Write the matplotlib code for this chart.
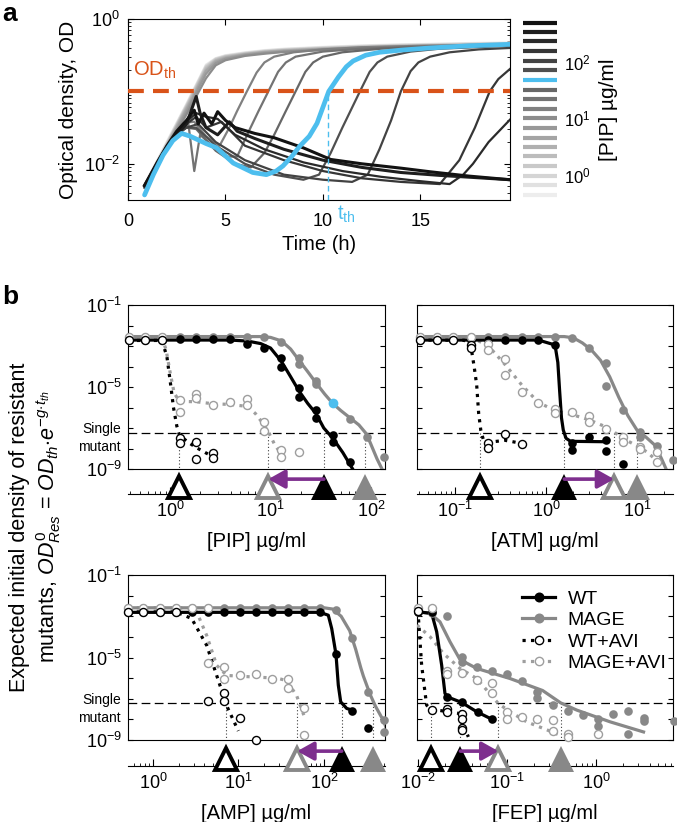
import numpy as np
import matplotlib.pyplot as plt
from matplotlib.lines import Line2D
from matplotlib.ticker import NullLocator, FixedLocator

plt.rcParams.update({
    'font.family': ['Liberation Sans', 'DejaVu Sans'],
    'mathtext.fontset': 'custom',
    'mathtext.rm': 'Liberation Sans',
    'mathtext.it': 'Liberation Sans:italic',
    'mathtext.bf': 'Liberation Sans:bold',
    'xtick.direction': 'in',
    'ytick.direction': 'in',
    'axes.linewidth': 0.8,
})

W, H = 677, 822
BLUE = '#4DBEEE'
ORANGE = '#D95319'
PURPLE = '#7E2F8E'
GRAY = '#888888'
LGRAY = '#9e9e9e'

# ---------------- panel a : growth curves (time h, log10 OD) ----------------
T_LOW = [0.85, 1.5, 2.0, 2.5, 3.0, 3.5, 4.0, 4.5, 5.0, 6.0, 7.0, 8.0, 10.0, 12.0, 14.0, 16.0, 18.0, 19.6]
OD_LOW_0 = [-2.28, -1.95, -1.69, -1.43, -1.17, -0.90, -0.63, -0.54, -0.50, -0.46, -0.43, -0.41, -0.385, -0.365, -0.35, -0.34, -0.33, -0.325]
OD_LOW_1 = [-2.29, -1.96, -1.70, -1.44, -1.18, -0.91, -0.64, -0.545, -0.505, -0.465, -0.435, -0.415, -0.39, -0.37, -0.355, -0.345, -0.335, -0.33]
OD_LOW_2 = [-2.30, -1.97, -1.71, -1.45, -1.19, -0.92, -0.65, -0.55, -0.51, -0.47, -0.44, -0.42, -0.395, -0.375, -0.36, -0.35, -0.34, -0.335]
OD_LOW_3 = [-2.30, -1.97, -1.72, -1.46, -1.20, -0.93, -0.66, -0.555, -0.515, -0.475, -0.445, -0.425, -0.40, -0.38, -0.365, -0.355, -0.345, -0.34]
OD_LOW_4 = [-2.31, -1.98, -1.73, -1.47, -1.21, -0.95, -0.68, -0.565, -0.52, -0.48, -0.45, -0.43, -0.405, -0.385, -0.37, -0.36, -0.35, -0.345]
OD_LOW_5 = [-2.31, -1.99, -1.74, -1.48, -1.23, -0.97, -0.70, -0.575, -0.53, -0.485, -0.455, -0.435, -0.41, -0.39, -0.375, -0.365, -0.355, -0.35]
OD_LOW_6 = [-2.32, -2.00, -1.75, -1.50, -1.25, -0.99, -0.72, -0.59, -0.54, -0.49, -0.46, -0.44, -0.415, -0.395, -0.38, -0.37, -0.36, -0.355]
OD_LOW_7 = [-2.32, -2.01, -1.76, -1.52, -1.28, -1.02, -0.76, -0.61, -0.55, -0.50, -0.47, -0.45, -0.42, -0.40, -0.385, -0.375, -0.365, -0.36]
OD_LOW_8 = [-2.33, -2.02, -1.78, -1.55, -1.32, -1.07, -0.82, -0.64, -0.57, -0.51, -0.48, -0.455, -0.43, -0.41, -0.395, -0.38, -0.37, -0.365]

T_9 = [0.85, 1.5, 2.0, 2.5, 3.0, 3.4, 4.0, 4.7, 5.2, 5.6, 6.1, 6.6, 7.0, 7.5, 8.5, 10, 12, 15, 19.6]
OD_9 = [-2.32, -2.0, -1.76, -1.55, -1.43, -1.42, -1.62, -1.75, -1.5, -1.27, -1.0, -0.74, -0.6, -0.52, -0.46, -0.42, -0.39, -0.37, -0.35]
T_10 = [0.85, 1.5, 2.0, 2.5, 3.1, 3.4, 3.7, 4.2, 5.0, 5.6, 6.2, 6.7, 7.2, 7.7, 8.1, 8.6, 10, 12, 15, 19.6]
OD_10 = [-2.33, -2.02, -1.78, -1.58, -1.45, -2.1, -1.6, -1.72, -1.9, -1.9, -1.55, -1.27, -1.0, -0.73, -0.6, -0.52, -0.45, -0.41, -0.38, -0.36]
T_11 = [0.85, 1.5, 2.0, 2.5, 3.0, 3.5, 4.5, 5.5, 6.3, 7.0, 7.5, 8.1, 8.6, 9.1, 9.5, 10, 11, 13, 16, 19.6]
OD_11 = [-2.33, -2.02, -1.79, -1.6, -1.5, -1.52, -1.82, -2.0, -2.05, -1.85, -1.6, -1.27, -1.0, -0.73, -0.6, -0.52, -0.46, -0.41, -0.38, -0.36]
T_BLUE = [0.85, 1.3, 1.8, 2.3, 2.75, 3.2, 4.0, 4.55, 5.4, 6.4, 7.1, 7.6, 7.95, 8.4, 8.8, 9.3, 9.7, 10.3, 10.8, 11.2, 11.55, 12.2, 12.9, 14, 15.5, 17.5, 19.6]
OD_BLUE = [-2.43, -2.15, -1.88, -1.68, -1.58, -1.62, -1.72, -1.78, -1.99, -2.12, -2.15, -2.1, -2.03, -1.9, -1.76, -1.62, -1.44, -1.0, -0.8, -0.66, -0.58, -0.5, -0.46, -0.43, -0.40, -0.37, -0.35]
T_13 = [0.85, 1.5, 2.0, 2.5, 3.0, 3.5, 4.5, 6.0, 7.5, 9.0, 9.8, 10.4, 11.0, 11.9, 12.4, 12.8, 13.3, 14.5, 16, 19.6]
OD_13 = [-2.32, -2.0, -1.77, -1.6, -1.5, -1.5, -1.75, -2.0, -2.15, -2.22, -2.15, -1.85, -1.5, -1.0, -0.73, -0.6, -0.52, -0.45, -0.41, -0.37]
T_14 = [0.85, 1.5, 2.0, 2.5, 3.0, 3.6, 4.5, 6.0, 8.0, 10.0, 11.5, 12.3, 12.9, 13.5, 14.0, 14.5, 14.9, 15.5, 16.5, 18, 19.6]
OD_14 = [-2.31, -1.99, -1.76, -1.58, -1.5, -1.45, -1.7, -1.95, -2.15, -2.22, -2.25, -2.15, -1.8, -1.4, -1.0, -0.72, -0.6, -0.52, -0.46, -0.42, -0.40]
T_15 = [0.85, 1.5, 2.0, 2.5, 3.0, 3.5, 4.0, 4.8, 6, 8, 10, 12, 14, 16.0, 17.0, 17.8, 18.56, 19.0, 19.6]
OD_15 = [-2.31, -1.99, -1.76, -1.57, -1.45, -1.35, -1.5, -1.42, -1.75, -1.95, -2.1, -2.2, -2.25, -2.28, -1.95, -1.5, -1.0, -0.83, -0.69]
T_16 = [0.85, 1.5, 2.0, 2.5, 3.0, 3.5, 4.0, 4.6, 5.5, 7, 9, 11, 13, 15, 16.5, 17.2, 17.7, 18.5, 19.6]
OD_16 = [-2.30, -1.98, -1.75, -1.56, -1.42, -1.3, -1.35, -1.38, -1.6, -1.8, -1.98, -2.1, -2.18, -2.24, -2.28, -2.15, -2.0, -1.7, -1.39]
T_17 = [0.85, 1.5, 2.0, 2.5, 3.0, 3.5, 3.7, 4.0, 4.6, 5.2, 5.6, 6.5, 8, 10, 12, 14, 16, 19.6]
OD_17 = [-2.3, -2.0, -1.78, -1.6, -1.45, -1.07, -1.3, -1.5, -1.6, -1.42, -1.55, -1.65, -1.8, -1.95, -2.05, -2.12, -2.16, -2.22]
T_18 = [0.85, 1.5, 2.0, 2.5, 3.0, 3.4, 3.6, 3.9, 4.3, 4.6, 5.0, 5.5, 6.5, 7.5, 9, 10.4, 12, 14, 15.5, 17.5, 19.6]
OD_18 = [-2.3, -1.98, -1.75, -1.55, -1.4, -1.26, -1.45, -1.3, -1.45, -1.28, -1.4, -1.5, -1.58, -1.64, -1.78, -1.94, -2.0, -2.06, -2.11, -2.17, -2.22]

OD_TH = 0.1
T_TH = 10.25
# colour-bar concentrations (log10 ug/ml); index 12 is the highlighted (blue) one
CBAR_LOGC = [-0.35, -0.18, -0.01, 0.16, 0.33, 0.50, 0.66, 0.83, 1.00, 1.17, 1.34, 1.51, 1.68,
             1.85, 2.02, 2.19, 2.36, 2.52, 2.69]
BLUE_INDEX = 12

# ---------------- panel b : log10 concentration vs log10 density ----------------
SINGLE_MUTANT = -7.22

# PIP
PIP_XLIM = (-0.42, 2.14)
PIP_WT_X = [-0.415, -0.249, -0.083, 0.093, 0.259, 0.431, 0.597, 0.770, 0.935, 1.108, 1.108, 1.284, 1.284, 1.453, 1.453, 1.619, 1.619, 1.791]
PIP_WT_Y = [-2.71, -2.71, -2.71, -2.66, -2.66, -2.66, -2.66, -2.92, -3.08, -3.57, -4.01, -5.06, -5.47, -6.12, -6.53, -7.34, -7.67, -8.64]
PIP_WT_FX = [-0.415, 0.6, 0.77, 0.9, 1.0, 1.108, 1.2, 1.284, 1.37, 1.453, 1.53, 1.62, 1.72, 1.83]
PIP_WT_FY = [-2.71, -2.71, -2.76, -2.88, -3.1, -3.75, -4.5, -5.2, -5.8, -6.3, -7.0, -7.5, -8.2, -9.1]
PIP_MG_X = [-0.415, -0.249, -0.083, 0.093, 0.259, 0.431, 0.597, 0.770, 0.935, 1.108, 1.284, 1.284, 1.453, 1.453, 1.791, 1.957, 2.130]
PIP_MG_Y = [-2.54, -2.54, -2.54, -2.54, -2.54, -2.54, -2.54, -2.54, -2.54, -2.79, -3.60, -3.90, -4.70, -4.85, -6.56, -7.42, -8.40]
PIP_MG_FX = [-0.415, 0.9, 1.0, 1.108, 1.2, 1.284, 1.37, 1.453, 1.54, 1.619, 1.7, 1.79, 1.88, 1.957, 2.0, 2.06, 2.12]
PIP_MG_FY = [-2.54, -2.54, -2.58, -2.75, -3.15, -3.7, -4.25, -4.8, -5.35, -5.8, -6.15, -6.5, -6.85, -7.3, -7.8, -8.5, -9.1]
PIP_BLUE_PT = (1.619, -5.80)
PIP_WA_X = [-0.415, -0.249, -0.083, 0.093, 0.093, 0.259, 0.259, 0.431, 0.431]
PIP_WA_Y = [-2.73, -2.73, -2.73, -7.47, -7.75, -7.67, -8.51, -8.24, -8.48]
PIP_WA_FX = [-0.415, -0.083, -0.033, 0.0, 0.033, 0.066, 0.093, 0.18, 0.259, 0.35, 0.43]
PIP_WA_FY = [-2.73, -2.73, -3.5, -4.7, -6.0, -6.9, -7.35, -7.7, -7.95, -8.2, -8.4]
PIP_MA_X = [-0.415, -0.249, -0.083, 0.093, 0.093, 0.259, 0.259, 0.431, 0.597, 0.770, 0.770, 0.935, 0.935, 1.108, 1.108, 1.284]
PIP_MA_Y = [-2.54, -2.54, -2.54, -5.63, -6.24, -5.36, -5.52, -5.88, -5.75, -5.59, -5.88, -6.69, -7.15, -8.07, -8.40, -8.15]
PIP_MA_FX = [-0.415, -0.083, -0.04, 0.0, 0.04, 0.093, 0.259, 0.431, 0.597, 0.77, 0.85, 0.935, 0.98, 1.04, 1.11]
PIP_MA_FY = [-2.54, -2.56, -3.2, -4.3, -5.3, -5.7, -5.72, -5.82, -5.85, -5.95, -6.3, -6.85, -7.2, -7.8, -8.3]
PIP_TRI = [1.22, 9.5, 34.0, 87.0]          # WT+AVI, MAGE+AVI, WT, MAGE

# ATM
ATM_XLIM = (-1.418, 1.396)
ATM_WT_X = [-1.385, -1.20, -1.018, -0.828, -0.633, -0.451, -0.267, -0.084, 0.099, 0.289, 0.289, 0.473, 0.660, 0.660, 0.842]
ATM_WT_Y = [-2.71, -2.71, -2.71, -2.71, -2.71, -2.71, -2.71, -2.71, -2.95, -7.75, -8.07, -7.42, -7.59, -8.12, -8.77]
ATM_WT_FX = [-1.385, -0.084, 0.099, 0.13, 0.15, 0.17, 0.19, 0.22, 0.27, 0.66]
ATM_WT_FY = [-2.71, -2.71, -2.95, -3.8, -5.2, -6.5, -7.1, -7.5, -7.65, -7.67]
ATM_MG_X = [-1.385, -1.20, -1.018, -0.828, -0.633, -0.451, -0.267, -0.084, 0.099, 0.289, 0.473, 0.660, 0.660, 0.842, 1.033, 1.033, 1.217, 1.217, 1.400]
ATM_MG_Y = [-2.54, -2.54, -2.54, -2.54, -2.54, -2.54, -2.54, -2.54, -2.54, -2.63, -3.11, -3.85, -4.93, -6.12, -7.21, -7.42, -7.86, -8.15, -8.56]
ATM_MG_FX = [-1.385, 0.2, 0.3, 0.4, 0.5, 0.6, 0.7, 0.8, 0.9, 1.0, 1.1, 1.2, 1.27, 1.33]
ATM_MG_FY = [-2.54, -2.54, -2.6, -2.85, -3.2, -3.7, -4.5, -5.5, -6.4, -7.1, -7.45, -7.85, -8.5, -9.1]
ATM_WA_X = [-1.385, -1.20, -1.018, -0.828, -0.828, -0.633, -0.633, -0.451, -0.267]
ATM_WA_Y = [-2.71, -2.71, -2.71, -2.95, -3.08, -7.75, -7.96, -7.31, -7.78]
ATM_WA_FX = [-1.385, -0.9, -0.828, -0.79, -0.762, -0.74, -0.717, -0.69, -0.633, -0.451, -0.267]
ATM_WA_FY = [-2.71, -2.72, -2.95, -4.0, -4.9, -6.3, -7.1, -7.55, -7.7, -7.6, -7.75]
ATM_MA_X = [-1.385, -1.20, -1.018, -0.828, -0.633, -0.633, -0.451, -0.451, -0.267, -0.084, 0.099, 0.099, 0.289, 0.473, 0.473, 0.660, 0.842, 0.842, 1.033, 1.033, 1.217, 1.217]
ATM_MA_Y = [-2.54, -2.54, -2.54, -2.54, -2.92, -3.20, -3.63, -4.41, -5.23, -5.80, -6.09, -6.28, -6.20, -6.40, -6.69, -7.05, -7.42, -7.67, -7.91, -8.02, -8.15, -8.64]
ATM_MA_FX = [-1.385, -0.828, -0.633, -0.451, -0.267, -0.084, 0.099, 0.289, 0.473, 0.66, 0.75, 0.842, 1.033, 1.12, 1.217]
ATM_MA_FY = [-2.54, -2.56, -3.0, -3.9, -4.9, -5.75, -6.15, -6.35, -6.6, -6.95, -7.2, -7.5, -7.95, -8.2, -8.6]
ATM_TRI = [0.19, 5.6, 1.59, 10.1]

# AMP
AMP_XLIM = (-0.292, 2.713)
AMP_WT_X = [-0.289, -0.113, 0.082, 0.265, 0.452, 0.639, 0.830, 1.018, 1.205, 1.388, 1.575, 1.766, 1.953, 2.140, 2.331, 2.519]
AMP_WT_Y = [-2.81, -2.81, -2.81, -2.81, -2.81, -2.81, -2.81, -2.81, -2.81, -2.81, -2.81, -2.81, -2.81, -4.85, -7.59, -8.40]
AMP_WT_FX = [-0.289, 1.953, 2.05, 2.09, 2.14, 2.167, 2.195, 2.265, 2.33]
AMP_WT_FY = [-2.81, -2.81, -2.95, -3.6, -4.85, -6.34, -7.15, -7.47, -7.55]
AMP_MG_X = [-0.289, -0.113, 0.082, 0.265, 0.452, 0.639, 0.830, 1.018, 1.205, 1.388, 1.575, 1.766, 1.953, 2.140, 2.331, 2.519, 2.702, 2.702]
AMP_MG_Y = [-2.59, -2.59, -2.59, -2.59, -2.59, -2.59, -2.59, -2.59, -2.59, -2.59, -2.59, -2.59, -2.59, -2.70, -4.07, -6.66, -8.04, -8.61]
AMP_MG_FX = [-0.289, 2.0, 2.1, 2.2, 2.3, 2.37, 2.43, 2.46, 2.54, 2.6, 2.7, 2.75]
AMP_MG_FY = [-2.59, -2.59, -2.65, -3.0, -3.7, -4.6, -5.5, -5.9, -6.8, -7.35, -8.1, -8.7]
AMP_WA_X = [-0.289, -0.113, 0.082, 0.265, 0.639, 0.830, 0.830, 1.018, 1.205]
AMP_WA_Y = [-2.79, -2.79, -2.79, -2.79, -7.12, -6.70, -7.12, -7.93, -9.0]
AMP_WA_FX = [-0.289, 0.265, 0.316, 0.452, 0.628, 0.745, 0.862, 0.998]
AMP_WA_FY = [-2.79, -2.79, -2.87, -3.11, -4.41, -5.87, -7.34, -8.56]
AMP_MA_X = [-0.289, -0.113, 0.082, 0.265, 0.452, 0.639, 0.639, 0.830, 0.830, 1.018, 1.205, 1.388, 1.575, 1.575, 1.766, 1.766]
AMP_MA_Y = [-2.59, -2.59, -2.59, -2.59, -2.59, -2.59, -5.28, -5.45, -6.02, -5.86, -5.82, -6.02, -6.02, -6.50, -7.47, -8.77]
AMP_MA_FX = [-0.289, 0.45, 0.511, 0.628, 0.745, 0.862, 1.2, 1.45, 1.563, 1.68, 1.78]
AMP_MA_FY = [-2.59, -2.6, -2.79, -3.93, -5.38, -5.87, -5.95, -6.0, -6.12, -6.85, -7.98]
AMP_TRI = [7.1, 48.7, 161.0, 378.0]

# FEP
FEP_XLIM = (-2.011, 0.865)
FEP_WT_X = [-1.997, -1.846, -1.678, -1.509, -1.322, -1.172]
FEP_WT_Y = [-2.78, -2.78, -6.91, -7.18, -7.63, -7.99]
FEP_WT_FX = [-2.011, -1.846, -1.79, -1.734, -1.697, -1.67, -1.509, -1.34, -1.172]
FEP_WT_FY = [-2.78, -2.86, -3.75, -5.37, -6.74, -6.91, -7.18, -7.63, -7.99]
FEP_MG_X = [-1.997, -1.846, -1.670, -1.509, -1.509, -1.340, -1.172, -1.003, -0.835, -0.666, -0.666, -0.478, -0.309, -0.141, 0.028, 0.028, 0.196, 0.365, 0.365, 0.534, 0.534, 0.871]
FEP_MG_Y = [-2.78, -2.82, -2.97, -4.96, -5.21, -5.45, -5.66, -5.82, -6.15, -6.66, -6.95, -7.31, -7.59, -7.80, -7.99, -8.31, -7.76, -7.59, -8.69, -7.93, -8.09, -8.09]
FEP_MG_FX = [-2.011, -1.865, -1.753, -1.64, -1.528, -1.34, -0.966, -0.6, -0.397, -0.216, 0.159, 0.534]
FEP_MG_FY = [-2.78, -2.86, -3.27, -4.24, -5.1, -5.53, -6.02, -6.6, -7.2, -7.55, -8.12, -8.61]
FEP_WA_X = [-1.997, -1.846, -1.678, -1.678, -1.509, -1.509, -1.509, -1.509]
FEP_WA_Y = [-2.75, -7.55, -7.50, -7.63, -7.72, -7.99, -8.44, -8.52]
FEP_WA_FX = [-2.011, -1.997, -1.959, -1.903, -1.858, -1.528, -1.49, -1.434]
FEP_WA_FY = [-2.75, -2.94, -5.37, -7.31, -7.5, -7.72, -8.28, -8.85]
FEP_MA_X = [-1.997, -1.846, -1.678, -1.678, -1.509, -1.340, -1.172, -1.172, -1.003, -1.003, -0.835, -0.666, -0.478, -0.478, -0.309, -0.309, 0.028]
FEP_MA_Y = [-2.62, -2.62, -5.66, -5.82, -5.77, -6.10, -6.26, -6.74, -7.63, -7.96, -7.88, -7.99, -8.04, -8.56, -8.72, -8.85, -8.72]
FEP_MA_FX = [-2.011, -1.865, -1.715, -1.528, -1.34, -1.098, -0.966, -0.779, -0.591, -0.403]
FEP_MA_FY = [-3.43, -3.99, -4.8, -5.53, -6.02, -7.23, -7.63, -8.12, -8.44, -8.77]
FEP_TRI = [0.0139, 0.080, 0.030, 0.40]


def pw(a):
    return 10.0 ** np.asarray(a, dtype=float)


def box(left, top, right, bottom):
    return [left / W, 1 - bottom / H, (right - left) / W, (bottom - top) / H]


fig = plt.figure(figsize=(W / 100, H / 100), dpi=100)

# ======================= panel a =======================
ax = fig.add_axes(box(128, 19, 510, 200))
ax.set_yscale('log')
low = [OD_LOW_0, OD_LOW_1, OD_LOW_2, OD_LOW_3, OD_LOW_4, OD_LOW_5, OD_LOW_6, OD_LOW_7, OD_LOW_8]
curves = [(T_LOW, c) for c in low] + [(T_9, OD_9), (T_10, OD_10), (T_11, OD_11), None,
                                      (T_13, OD_13), (T_14, OD_14), (T_15, OD_15),
                                      (T_16, OD_16), (T_17, OD_17), (T_18, OD_18)]
n = len(CBAR_LOGC)
grays = [0.93 - 0.86 * i / (n - 1) for i in range(n)]
for i, cv in enumerate(curves):
    if cv is None:
        continue
    lw = 2.2 if i >= 17 else 1.6
    ax.plot(cv[0], pw(cv[1]), color=str(grays[i]), lw=lw, zorder=2)
ax.plot(T_BLUE, pw(OD_BLUE), color=BLUE, lw=3.4, zorder=4, solid_capstyle='round')
ax.axhline(OD_TH, color=ORANGE, lw=3, dashes=(3.8, 2.2), zorder=3)
ax.plot([T_TH, T_TH], [10 ** -2.5, OD_TH], color=BLUE, lw=1.0, dashes=(4, 2.5), zorder=3)
ax.text(0.25, 10 ** -0.78, r'OD$_{\mathrm{th}}$', color=ORANGE, fontsize=14.5, va='baseline')
ax.set_xlim(0, 19.6)
ax.set_ylim(10 ** -2.5, 1)
ax.set_xticks([0, 5, 10, 15])
ax.set_yticks([1e-2, 1e0])
ax.set_yticklabels([r'$10^{-2}$', r'$10^{0}$'])
ax.tick_params(axis='both', which='both', top=True, right=True, labelsize=13)
ax.tick_params(axis='x', which='major', length=4, pad=9)
ax.tick_params(axis='y', which='major', length=4, pad=6)
ax.tick_params(axis='y', which='minor', length=2.5)
ax.set_xlabel('Time (h)', fontsize=14.5, labelpad=4)
ax.set_ylabel('Optical density, OD', fontsize=15, labelpad=4)
fig.text(337 / W, 1 - 204 / H, r't$_{\mathrm{th}}$', color=BLUE, fontsize=14.5, va='top', ha='left')

# colour bar of concentrations
cax = fig.add_axes(box(523, 19, 557, 200))
cax.set_yscale('log')
for i, lc in enumerate(CBAR_LOGC):
    col = BLUE if i == BLUE_INDEX else str(grays[i])
    cax.plot([0, 1], [10 ** lc, 10 ** lc], color=col, lw=3.0, solid_capstyle='butt')
cax.set_xlim(0, 1)
cax.set_ylim(10 ** -0.44, 10 ** 2.755)
for s in cax.spines.values():
    s.set_visible(False)
cax.set_xticks([])
cax.yaxis.set_ticks_position('right')
cax.yaxis.set_label_position('right')
cax.set_yticks([1, 10, 100])
cax.set_yticklabels([r'$10^{0}$', r'$10^{1}$', r'$10^{2}$'])
cax.yaxis.set_minor_locator(NullLocator())
cax.tick_params(axis='y', length=0, labelsize=12, pad=5)
cax.set_ylabel('[PIP] µg/ml', fontsize=15, labelpad=6)

fig.text(2 / W, 1 - 2 / H, 'a', fontsize=19, fontweight='bold', va='top')
fig.text(2 / W, 1 - 285 / H, 'b', fontsize=19, fontweight='bold', va='top')

# ======================= panel b =======================
DRUGS = [
    dict(name='[PIP] µg/ml', xlim=PIP_XLIM, main=(128, 305, 385, 469), strip=(128, 470, 385, 494),
         wt=(PIP_WT_X, PIP_WT_Y, PIP_WT_FX, PIP_WT_FY), mg=(PIP_MG_X, PIP_MG_Y, PIP_MG_FX, PIP_MG_FY),
         wa=(PIP_WA_X, PIP_WA_Y, PIP_WA_FX, PIP_WA_FY), ma=(PIP_MA_X, PIP_MA_Y, PIP_MA_FX, PIP_MA_FY),
         tri=PIP_TRI, left=True),
    dict(name='[ATM] µg/ml', xlim=ATM_XLIM, main=(417, 305, 673, 469), strip=(417, 470, 673, 494),
         wt=(ATM_WT_X, ATM_WT_Y, ATM_WT_FX, ATM_WT_FY), mg=(ATM_MG_X, ATM_MG_Y, ATM_MG_FX, ATM_MG_FY),
         wa=(ATM_WA_X, ATM_WA_Y, ATM_WA_FX, ATM_WA_FY), ma=(ATM_MA_X, ATM_MA_Y, ATM_MA_FX, ATM_MA_FY),
         tri=ATM_TRI, left=False),
    dict(name='[AMP] µg/ml', xlim=AMP_XLIM, main=(128, 575, 385, 740), strip=(128, 742, 385, 766),
         wt=(AMP_WT_X, AMP_WT_Y, AMP_WT_FX, AMP_WT_FY), mg=(AMP_MG_X, AMP_MG_Y, AMP_MG_FX, AMP_MG_FY),
         wa=(AMP_WA_X, AMP_WA_Y, AMP_WA_FX, AMP_WA_FY), ma=(AMP_MA_X, AMP_MA_Y, AMP_MA_FX, AMP_MA_FY),
         tri=AMP_TRI, left=True),
    dict(name='[FEP] µg/ml', xlim=FEP_XLIM, main=(417, 575, 673, 740), strip=(417, 742, 673, 766),
         wt=(FEP_WT_X, FEP_WT_Y, FEP_WT_FX, FEP_WT_FY), mg=(FEP_MG_X, FEP_MG_Y, FEP_MG_FX, FEP_MG_FY),
         wa=(FEP_WA_X, FEP_WA_Y, FEP_WA_FX, FEP_WA_FY), ma=(FEP_MA_X, FEP_MA_Y, FEP_MA_FX, FEP_MA_FY),
         tri=FEP_TRI, left=False),
]

STYLE = {
    'wt': dict(color='k', ls='-', mfc='k', mec='k'),
    'mg': dict(color=GRAY, ls='-', mfc=GRAY, mec=GRAY),
    'wa': dict(color='k', ls=':', mfc='white', mec='k'),
    'ma': dict(color=LGRAY, ls=':', mfc='white', mec=LGRAY),
}
ys = 10 ** SINGLE_MUTANT

for d in DRUGS:
    l, t, r, b = d['main']
    ax = fig.add_axes(box(l, t, r, b))
    ax.set_xscale('log')
    ax.set_yscale('log')
    xl = (10 ** d['xlim'][0], 10 ** d['xlim'][1])
    ax.set_xlim(*xl)
    ax.set_ylim(1e-9, 1e-1)
    # fitted curves
    for key in ['wa', 'ma', 'mg', 'wt']:
        st = STYLE[key]
        fx, fy = d[key][2], d[key][3]
        ax.plot(pw(fx), pw(fy), color=st['color'], ls=st['ls'], lw=2.3, zorder=3)
    # data points
    for key in ['mg', 'wt', 'ma', 'wa']:
        st = STYLE[key]
        px, py = d[key][0], d[key][1]
        filled = key in ('wt', 'mg')
        ax.plot(pw(px), pw(py), ls='none', marker='o', ms=6.2 if filled else 5.8,
                mfc=st['mfc'], mec=st['mec'], mew=0 if filled else 1.0,
                zorder=5 if filled else 6, clip_on=False)
    if d['name'].startswith('[PIP]'):
        ax.plot(10 ** PIP_BLUE_PT[0], 10 ** PIP_BLUE_PT[1], ls='none', marker='o', ms=7,
                mfc=BLUE, mec=BLUE, mew=0, zorder=7)
    ax.axhline(ys, color='k', lw=0.9, dashes=(7, 3.5), zorder=2)
    for xv in d['tri']:
        ax.plot([xv, xv], [ys, 1e-9], color='0.25', lw=0.8, ls=(0, (1, 2)), zorder=2)
    yt = [10.0 ** k for k in range(-9, 0)]
    ax.yaxis.set_major_locator(FixedLocator(yt))
    ax.yaxis.set_minor_locator(NullLocator())
    if d['left']:
        ax.set_yticklabels([r'$10^{%d}$' % k if k in (-1, -5, -9) else '' for k in range(-9, 0)])
    else:
        ax.set_yticklabels([])
    ax.tick_params(axis='y', which='major', length=3.5, right=True, labelsize=13, pad=4)
    ax.tick_params(axis='x', which='both', bottom=False, top=False, labelbottom=False)
    if d['left']:
        fig.text(121 / W, 1 - (b - 31) / H, 'Single\nmutant', fontsize=10, ha='right', va='center',
                 linespacing=1.4)

    # triangle strip
    l2, t2, r2, b2 = d['strip']
    sax = fig.add_axes(box(l2, t2, r2, b2))
    sax.set_xscale('log')
    sax.set_xlim(*xl)
    sax.set_ylim(0, 1)
    for s in ['top', 'left', 'right']:
        sax.spines[s].set_visible(False)
    sax.set_yticks([])
    sax.tick_params(axis='x', which='major', length=5, labelsize=13, pad=5)
    sax.tick_params(axis='x', which='minor', length=2.5)
    tri_style = [('white', 'k', 2.8, 15.5), ('white', GRAY, 2.8, 15.5), ('k', 'k', 0, 19), (GRAY, GRAY, 0, 19)]
    for xv, (fc, ec, mw, ms) in zip(d['tri'], tri_style):
        sax.plot([xv], [0.3], ls='none', marker='^', ms=ms, mfc=fc, mec=ec, mew=mw,
                 clip_on=False, zorder=4)
    sax.annotate('', xy=(d['tri'][1], 0.62), xytext=(d['tri'][2], 0.62),
                 arrowprops=dict(arrowstyle='-|>,head_length=0.5,head_width=0.28', color=PURPLE,
                                 lw=2.6, shrinkA=0, shrinkB=0, mutation_scale=20),
                 annotation_clip=False, zorder=6)
    sax.set_xlabel(d['name'], fontsize=14.5, labelpad=8)
    sax.set_facecolor('none')

    if d['name'].startswith('[FEP]'):
        handles = [Line2D([], [], color='k', lw=2.3, marker='o', ms=6.2, mfc='k', mec='k'),
                   Line2D([], [], color=GRAY, lw=2.3, marker='o', ms=6.2, mfc=GRAY, mec=GRAY),
                   Line2D([], [], color='k', lw=2.3, ls=':', marker='o', ms=6, mfc='white', mec='k'),
                   Line2D([], [], color=LGRAY, lw=2.3, ls=':', marker='o', ms=6, mfc='white', mec=LGRAY)]
        leg = ax.legend(handles, ['WT', 'MAGE', 'WT+AVI', 'MAGE+AVI'], loc='upper left',
                        bbox_to_anchor=((522 - l) / (r - l), 1 - (590 - t) / (b - t)),
                        frameon=False, fontsize=14, handlelength=1.7, handletextpad=0.65,
                        labelspacing=0.2, borderpad=0, borderaxespad=0)

fig.text(20 / W, 1 - 527 / H, 'Expected initial density of resistant', rotation=90,
         fontsize=15.5, ha='center', va='center')
fig.text(49 / W, 1 - 527 / H, r'mutants, $OD^{0}_{Res}$ = $OD_{th}{\cdot}e^{-g{\cdot}t_{th}}$',
         rotation=90, fontsize=15.5, ha='center', va='center')

fig.savefig('out.png', dpi=100, facecolor='white')
